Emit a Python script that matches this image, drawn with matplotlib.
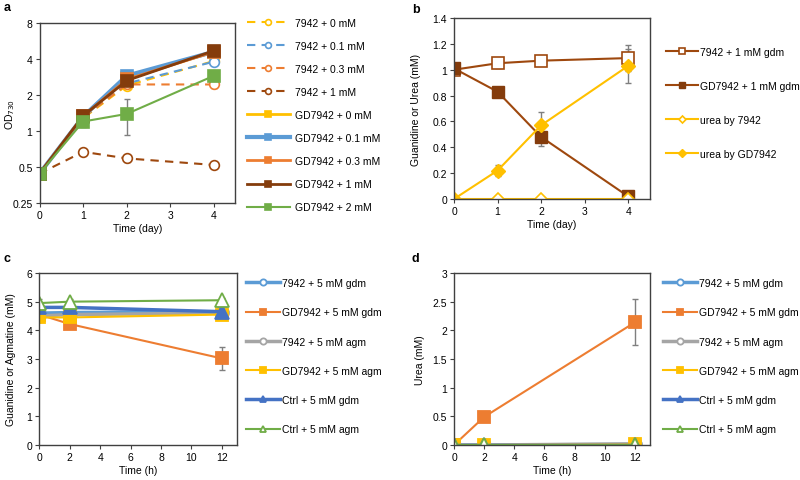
import matplotlib
matplotlib.use("Agg")
import matplotlib.pyplot as plt
import numpy as np

plt.rcParams['font.family'] = ['Liberation Sans', 'DejaVu Sans']
plt.rcParams['font.size'] = 7.5

# ---------------- data ----------------
days = [0, 1, 2, 4]
a_labels = ["7942 + 0 mM", "7942 + 0.1 mM", "7942 + 0.3 mM", "7942 + 1 mM",
            "GD7942 + 0 mM", "GD7942 + 0.1 mM", "GD7942 + 0.3 mM", "GD7942 + 1 mM",
            "GD7942 + 2 mM"]
wt_0 = [0.44, 1.28, 2.40, 3.85]
wt_01 = [0.44, 1.30, 2.50, 3.80]
wt_03 = [0.44, 1.30, 2.45, 2.45]
wt_1 = [0.44, 0.67, 0.59, 0.52]
gd_0 = [0.44, 1.32, 2.75, 4.60]
gd_01 = [0.44, 1.32, 2.90, 4.60]
gd_03 = [0.44, 1.33, 2.70, 4.60]
gd_1 = [0.44, 1.34, 2.64, 4.70]
gd_2 = [0.44, 1.20, 1.39, 2.90]
err_wt_0 = [0.01, 0.08, 0.15, 0.15]
err_wt_01 = [0.01, 0.08, 0.15, 0.15]
err_wt_03 = [0.01, 0.08, 0.15, 0.15]
err_wt_1 = [0.01, 0.04, 0.04, 0.03]
err_gd_0 = [0.01, 0.12, 0.15, 0.2]
err_gd_01 = [0.01, 0.12, 0.15, 0.2]
err_gd_03 = [0.01, 0.12, 0.15, 0.2]
err_gd_1 = [0.01, 0.14, 0.15, 0.2]
err_gd_2 = [0.02, 0.12, 0.47, 0.30]
a_yticks = [0.25, 0.5, 1, 2, 4, 8]
a_yticklabels = ["0.25", "0.5", "1", "2", "4", "8"]

b_labels = ["7942 + 1 mM gdm", "GD7942 + 1 mM gdm", "urea by 7942", "urea by GD7942"]
b_wt_gdm = [1.00, 1.05, 1.07, 1.09]
b_gd_gdm = [1.01, 0.83, 0.48, 0.02]
b_urea_wt = [0.0, 0.0, 0.0, 0.0]
b_urea_gd = [0.0, 0.22, 0.57, 1.03]
b_err_wt_gdm = [0.02, 0.04, 0.02, 0.10]
b_err_gd_gdm = [0.02, 0.02, 0.07, 0.01]
b_err_urea_gd = [0.0, 0.04, 0.10, 0.13]

hours = [0, 2, 12]
cd_labels = ["7942 + 5 mM gdm", "GD7942 + 5 mM gdm", "7942 + 5 mM agm",
             "GD7942 + 5 mM agm", "Ctrl + 5 mM gdm", "Ctrl + 5 mM agm"]
c_wt_gdm = [4.60, 4.62, 4.65]
c_gd_gdm = [4.55, 4.22, 3.02]
c_wt_agm = [4.50, 4.55, 4.60]
c_gd_agm = [4.45, 4.45, 4.55]
c_ctrl_gdm = [4.80, 4.80, 4.65]
c_ctrl_agm = [4.95, 5.00, 5.05]
c_err_gd_gdm = [0.05, 0.08, 0.40]
c_err_ctrl_agm = [0.15, 0.10, 0.08]

d_wt_gdm = [0.0, 0.0, 0.01]
d_gd_gdm = [0.0, 0.49, 2.14]
d_wt_agm = [0.0, 0.0, 0.02]
d_gd_agm = [0.0, 0.0, 0.01]
d_ctrl_gdm = [0.0, 0.0, 0.0]
d_ctrl_agm = [0.0, 0.0, 0.0]
d_err_gd_gdm = [0.0, 0.02, 0.40]

# ---------------- styles ----------------
YEL = "#FFC000"; BLU = "#5B9BD5"; ORA = "#ED7D31"; BRN = "#843C0C"
GRN = "#70AD47"; GRY = "#A5A5A5"; DBL = "#4472C4"; BRN2 = "#9E480E"
ECOL = "#7F7F7F"

W, H = 800, 481
fig = plt.figure(figsize=(8, 4.81), dpi=100)

def add_ax(l, r, t, b):
    return fig.add_axes([l / W, 1 - b / H, (r - l) / W, (b - t) / H])

def style(ax):
    for s in ax.spines.values():
        s.set_color("#404040")
        s.set_linewidth(1.0)
    ax.tick_params(direction="out", length=3, width=0.8, pad=2, labelsize=7.5,
                   colors="#404040", labelcolor="black")

def ylabel_at(ax, text, xpix):
    # xpix: desired horizontal centre of the rotated label (pixels)
    ax.set_ylabel(text, fontsize=7.5)
    x0 = ax.get_position().x0 * W
    w = ax.get_position().width * W
    ax.yaxis.set_label_coords((xpix + 5 - x0) / w, 0.5)

def legend(ax, x, y, handlelen, spacing, tpad=0.4, mscale=0.6):
    return ax.legend(loc="upper left", bbox_to_anchor=(x / W, 1 - y / H),
                     bbox_transform=fig.transFigure, frameon=False,
                     borderpad=0, borderaxespad=0, handlelength=handlelen,
                     labelspacing=spacing, handletextpad=tpad, markerscale=mscale,
                     fontsize=7.5)

ekw = dict(ecolor=ECOL, elinewidth=1.0, capsize=2.5, capthick=1.0)

# ---------------- panel a ----------------
ax = add_ax(39.5, 235, 24, 204)
series_a = [
    (wt_0, err_wt_0, YEL, "--", "o", "white", 1.5),
    (wt_01, err_wt_01, BLU, "--", "o", "white", 1.5),
    (wt_03, err_wt_03, ORA, "--", "o", "white", 1.5),
    (wt_1, err_wt_1, BRN2, "--", "o", "white", 1.5),
    (gd_0, err_gd_0, YEL, "-", "s", None, 2.0),
    (gd_01, err_gd_01, BLU, "-", "s", None, 3.0),
    (gd_03, err_gd_03, ORA, "-", "s", None, 2.0),
    (gd_1, err_gd_1, BRN, "-", "s", None, 2.0),
    (gd_2, err_gd_2, GRN, "-", "s", None, 1.5),
]
for (vals, err, c, ls, m, mfc, lw), lab in zip(series_a, a_labels):
    ax.errorbar(days, vals, yerr=err, fmt="none", **ekw)
    ax.plot(days, vals, color=c, ls=ls, lw=lw, marker=m, ms=8 if m == "s" else 7,
            mfc=mfc if mfc else c, mec=c, mew=1.2, label=lab,
            dashes=(4, 3) if ls == "--" else (None, None))
ax.set_yscale("log", base=2)
ax.set_ylim(0.25, 8)
ax.set_yticks(a_yticks)
ax.set_yticklabels(a_yticklabels)
ax.minorticks_off()
ax.set_xlim(0, 4.48)
ax.set_xticks([0, 1, 2, 3, 4])
ax.set_xlabel("Time (day)", fontsize=7.5, labelpad=2)
ylabel_at(ax, "OD$_{730}$", 12)
style(ax)
legend(ax, 247, 19, 4.1, 1.25, 0.5)
fig.text(4 / W, 1 - 8 / H, "a", fontsize=9, fontweight="bold", va="center")

# ---------------- panel b ----------------
ax = add_ax(454, 650, 19, 200)
ax.errorbar(days, b_wt_gdm, yerr=b_err_wt_gdm, fmt="none", **ekw)
ax.errorbar(days, b_gd_gdm, yerr=b_err_gd_gdm, fmt="none", **ekw)
ax.errorbar(days, b_urea_gd, yerr=b_err_urea_gd, fmt="none", **ekw)
ax.plot(days, b_wt_gdm, color=BRN2, lw=1.5, marker="s", ms=8, mfc="white",
        mec=BRN2, mew=1.2, label=b_labels[0])
ax.plot(days, b_gd_gdm, color=BRN2, lw=1.5, marker="s", ms=8.5, mfc=BRN,
        mec=BRN, label=b_labels[1])
ax.plot(days, b_urea_wt, color=YEL, lw=1.5, marker="D", ms=6.5, mfc="white",
        mec=YEL, mew=1.2, label=b_labels[2])
ax.plot(days, b_urea_gd, color=YEL, lw=1.5, marker="D", ms=7.5, mfc=YEL,
        mec=YEL, label=b_labels[3])
ax.set_ylim(0, 1.4)
ax.set_yticks(np.arange(0, 1.41, 0.2))
ax.set_yticklabels(["0", "0.2", "0.4", "0.6", "0.8", "1", "1.2", "1.4"])
ax.set_xlim(0, 4.5)
ax.set_xticks([0, 1, 2, 3, 4])
ax.set_xlabel("Time (day)", fontsize=7.5, labelpad=2)
ylabel_at(ax, "Guanidine or Urea (mM)", 416)
style(ax)
legend(ax, 666, 48, 3.1, 2.3, 0.15, 0.55)
fig.text(412 / W, 1 - 10 / H, "b", fontsize=9, fontweight="bold", va="center")

# ---------------- panel c & d ----------------
cd_styles = [
    (BLU, "o", "white", 2.5, 9),
    (ORA, "s", ORA, 1.5, 9),
    (GRY, "o", "white", 2.5, 9),
    (YEL, "s", YEL, 1.5, 9),
    (DBL, "^", DBL, 2.5, 10),
    (GRN, "^", "white", 1.5, 10),
]

def panel_cd(ax, series, errs):
    for i, ((c, m, mfc, lw, ms), vals, lab) in enumerate(zip(cd_styles, series, cd_labels)):
        if errs[i] is not None:
            ax.errorbar(hours, vals, yerr=errs[i], fmt="none", **ekw)
        ax.plot(hours, vals, color=c, lw=lw, marker=m, ms=ms, mfc=mfc, mec=c,
                mew=1.3, label=lab)
    ax.set_xlim(0, 13)
    ax.set_xticks(range(0, 13, 2))
    ax.set_xlabel("Time (h)", fontsize=7.5, labelpad=2)
    style(ax)

ax = add_ax(39.3, 237, 274, 446)
panel_cd(ax, [c_wt_gdm, c_gd_gdm, c_wt_agm, c_gd_agm, c_ctrl_gdm, c_ctrl_agm],
         [None, c_err_gd_gdm, None, None, None, c_err_ctrl_agm])
ax.set_ylim(0, 6)
ax.set_yticks(range(0, 7))
ylabel_at(ax, "Guanidine or Agmatine (mM)", 11)
legend(ax, 246, 279, 3.3, 1.85, 0.2, 0.5)
fig.text(4 / W, 1 - 259 / H, "c", fontsize=9, fontweight="bold", va="center")

ax = add_ax(454, 650, 274, 446)
panel_cd(ax, [d_wt_gdm, d_gd_gdm, d_wt_agm, d_gd_agm, d_ctrl_gdm, d_ctrl_agm],
         [None, d_err_gd_gdm, None, None, None, None])
ax.set_ylim(0, 3)
ax.set_yticks(np.arange(0, 3.01, 0.5))
ax.set_yticklabels(["0", "0.5", "1", "1.5", "2", "2.5", "3"])
ylabel_at(ax, "Urea (mM)", 420)
legend(ax, 663, 279, 3.3, 1.85, 0.2, 0.5)
fig.text(412 / W, 1 - 259 / H, "d", fontsize=9, fontweight="bold", va="center")

fig.savefig("out.png", dpi=100)
